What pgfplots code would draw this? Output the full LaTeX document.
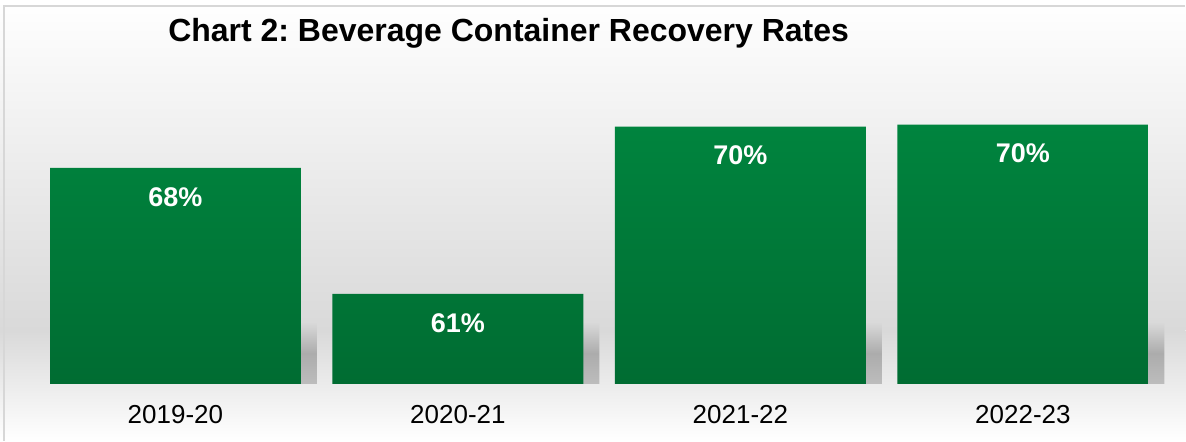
\documentclass[border=0pt]{standalone}
\usepackage{pgfplots}
\pgfplotsset{compat=1.18}
\usetikzlibrary{backgrounds}
\usepackage{fontspec}
\setmainfont{Liberation Sans}
\definecolor{bartop}{RGB}{0,132,62}
\definecolor{barbot}{RGB}{0,108,50}
\definecolor{bggray}{RGB}{217,217,217}
\definecolor{shadowgray}{RGB}{172,172,172}
\definecolor{edgegray}{RGB}{215,215,215}

\begin{document}
\frenchspacing
\begin{tikzpicture}
  \begin{axis}[
      scale only axis,
      width=1130.7pt, height=342pt,
      xmin=-0.5, xmax=3.5,
      ymin=56, ymax=75,
      axis line style={draw=none},
      ytick=\empty,
      xtick={0,1,2,3},
      xticklabels={2019-20,2020-21,2021-22,2022-23},
      major tick length=0pt,
      xticklabel style={anchor=base, yshift=-40pt,
        font=\fontsize{26}{30}\selectfont},
      /pgf/number format/assume math mode=true,
      clip=false,
      ybar, bar width=251pt,
    ]
    % floor shadow behind each bar
    \addplot[draw=none, bar shift=16pt,
      top color=bggray, bottom color=shadowgray!80, middle color=shadowgray]
      coordinates {(0,59.4) (1,59.4) (2,59.4) (3,59.4)};
    % recovery rates
    \addplot[draw=none, bar shift=0pt, top color=bartop, bottom color=barbot,
      nodes near coords={\pgfmathprintnumber[fixed,precision=0]{\pgfplotspointmeta}\%},
      every node near coord/.append style={anchor=center, yshift=-29pt,
        text=white, font=\fontsize{27}{30}\selectfont\bfseries}]
      coordinates {(0,68) (1,61) (2,70.3) (3,70.4)};
  \end{axis}
  % page frame in pixel units, its origin at the page's lower left corner
  \begin{scope}[shift={(current axis.south west)}, xshift=-34.2pt, yshift=-57pt, x=1pt, y=1pt]
    \begin{scope}[on background layer]
      \shade[top color=white, bottom color=bggray] (0,110) rectangle (1186,441);
      \shade[top color=bggray, bottom color=white] (0,0) rectangle (1186,110.2);
      \draw[edgegray, line width=1.5pt] (4,0) -- (4,435) -- (1186,435);
    \end{scope}
    \node[anchor=base, font=\fontsize{32}{36}\selectfont\bfseries] at (509,399)
      {Chart 2: Beverage Container Recovery Rates};
  \end{scope}
\end{tikzpicture}
\end{document}
